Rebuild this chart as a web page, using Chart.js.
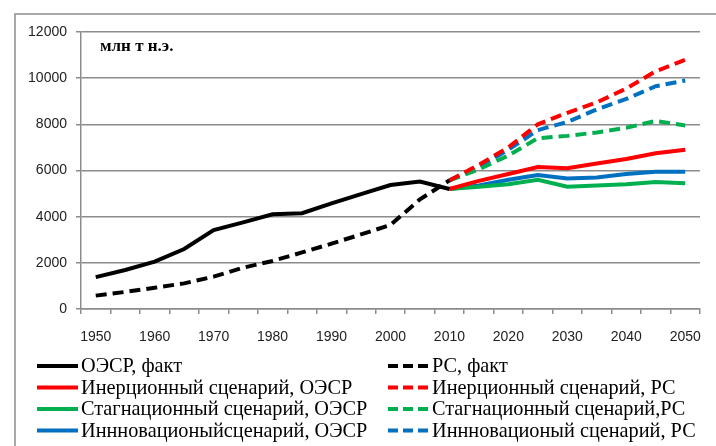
<!DOCTYPE html>
<html>
<head>
<meta charset="utf-8">
<script src="https://cdn.jsdelivr.net/npm/chart.js@4/dist/chart.umd.min.js"></script>
<style>
  body { margin: 0; background: #fff; }
  canvas { display: block; }
</style>
</head>
<body>
<canvas id="energyChart" width="716" height="446"></canvas>
<script>
// годы 1950-2050, шаг 5
const years = ["1950","1955","1960","1965","1970","1975","1980","1985","1990","1995","2000",
  "2005","2010","2015","2020","2025","2030","2035","2040","2045","2050"];

// факт 1950-2010
const oecdFact = [1380, 1690, 2050, 2600, 3420, 3750, 4100, 4150, 4580, 4980, 5370, 5520, 5200];
const rsFact = [580, 740, 920, 1110, 1400, 1790, 2080, 2450, 2830, 3230, 3640, 4750, 5570];

// сценарии 2010-2050
const inertOecd = [5200, 5550, 5850, 6150, 6100, 6300, 6500, 6750, 6900];
const inertRs = [5570, 6250, 7000, 8000, 8500, 8950, 9550, 10300, 10800];
const stagOecd = [5200, 5300, 5400, 5600, 5300, 5350, 5400, 5500, 5450];
const stagRs = [5570, 6050, 6650, 7400, 7500, 7650, 7850, 8150, 7950];
const innovOecd = [5200, 5350, 5600, 5800, 5650, 5700, 5850, 5950, 5950];
const innovRs = [5570, 6150, 6900, 7750, 8100, 8650, 9100, 9650, 9900];

const yTicks = [0, 2000, 4000, 6000, 8000, 10000, 12000];

const labels = [
  "ОЭСР, факт", "РС, факт",
  "Инерционный сценарий, ОЭСР", "Инерционный сценарий, РС",
  "Стагнационный сценарий, ОЭСР", "Стагнационный сценарий,РС",
  "Иннновационыйсценарий, ОЭСР", "Иннновационый сценарий, РС"
];

const BLACK = "#000000", RED = "#ff0000", GREEN = "#00b050", BLUE = "#0070c0";
const DASH = [11, 6];
const SERIF = '"Liberation Serif", "Times New Roman", serif';

const hist = arr => arr.concat(Array(years.length - arr.length).fill(null));
const future = arr => Array(years.length - arr.length).fill(null).concat(arr);

function line(label, data, color, dashed) {
  return {
    label: label,
    data: data,
    borderColor: color,
    backgroundColor: color,
    borderWidth: 4,
    borderDash: dashed ? DASH : [],
    pointRadius: 0,
    tension: 0,
    fill: false,
    spanGaps: false
  };
}

const datasets = [
  line(labels[0], hist(oecdFact), BLACK, false),
  line(labels[1], hist(rsFact), BLACK, true),
  line(labels[2], future(inertOecd), RED, false),
  line(labels[3], future(inertRs), RED, true),
  line(labels[4], future(stagOecd), GREEN, false),
  line(labels[5], future(stagRs), GREEN, true),
  line(labels[6], future(innovOecd), BLUE, false),
  line(labels[7], future(innovRs), BLUE, true)
];

// рамка, подпись единиц и легенда в две колонки
const decor = {
  id: "decor",
  beforeDraw(chart) {
    const ctx = chart.ctx;
    ctx.save();
    ctx.fillStyle = "#fff";
    ctx.fillRect(0, 0, chart.width, chart.height);
    ctx.strokeStyle = "#8c8c8c";
    ctx.lineWidth = 1.5;
    ctx.beginPath();
    ctx.moveTo(15, chart.height + 5);
    ctx.lineTo(15, 14);
    ctx.lineTo(chart.width + 5, 14);
    ctx.stroke();
    ctx.restore();
  },
  afterDraw(chart) {
    const ctx = chart.ctx;
    ctx.save();
    ctx.fillStyle = "#000";
    ctx.font = "bold 17px " + SERIF;
    ctx.textBaseline = "alphabetic";
    ctx.fillText("млн т н.э.", 100, 51);

    ctx.font = "20.3px " + SERIF;
    ctx.textBaseline = "middle";
    chart.data.datasets.forEach((ds, i) => {
      const col = i % 2, row = Math.floor(i / 2);
      const x0 = col === 0 ? 37 : 388;
      const y = 366 + row * 21.5;
      ctx.strokeStyle = ds.borderColor;
      ctx.lineWidth = 4;
      ctx.lineCap = "butt";
      ctx.setLineDash(ds.borderDash.length ? [10, 5] : []);
      ctx.beginPath();
      ctx.moveTo(x0, y);
      ctx.lineTo(x0 + 41, y);
      ctx.stroke();
      ctx.setLineDash([]);
      ctx.fillText(ds.label, x0 + 44, y + 1);
    });
    ctx.restore();
  }
};

const ctx = document.getElementById("energyChart").getContext("2d");
new Chart(ctx, {
  type: "line",
  data: { labels: years, datasets: datasets },
  options: {
    responsive: false,
    animation: false,
    layout: { padding: { left: 0, top: 32, right: 9, bottom: 97 } },
    plugins: {
      legend: { display: false },
      tooltip: { enabled: false }
    },
    scales: {
      x: {
        offset: true,
        afterFit(scale) { scale.height = 40; },
        grid: {
          offset: true,
          drawOnChartArea: false,
          drawTicks: true,
          tickLength: 5,
          color: "#8c8c8c",
          lineWidth: 1.5
        },
        border: { color: "#8c8c8c", width: 1.5 },
        ticks: {
          autoSkip: false,
          maxRotation: 0,
          padding: 15,
          color: "#222",
          font: { family: "'Liberation Sans', sans-serif", size: 14 },
          callback: (v, i) => (i % 2 === 0 ? years[i] : "")
        }
      },
      y: {
        min: yTicks[0],
        max: yTicks[yTicks.length - 1],
        afterFit(scale) { scale.width = 81; },
        afterBuildTicks(scale) { scale.ticks = yTicks.map(v => ({ value: v })); },
        grid: {
          color: "#8c8c8c",
          lineWidth: 1.5,
          tickLength: 5
        },
        border: { color: "#8c8c8c", width: 1.5 },
        ticks: {
          padding: 9,
          color: "#222",
          font: { family: "'Liberation Sans', sans-serif", size: 14 },
          callback: v => String(v)
        }
      }
    }
  },
  plugins: [decor]
});
</script>
</body>
</html>
